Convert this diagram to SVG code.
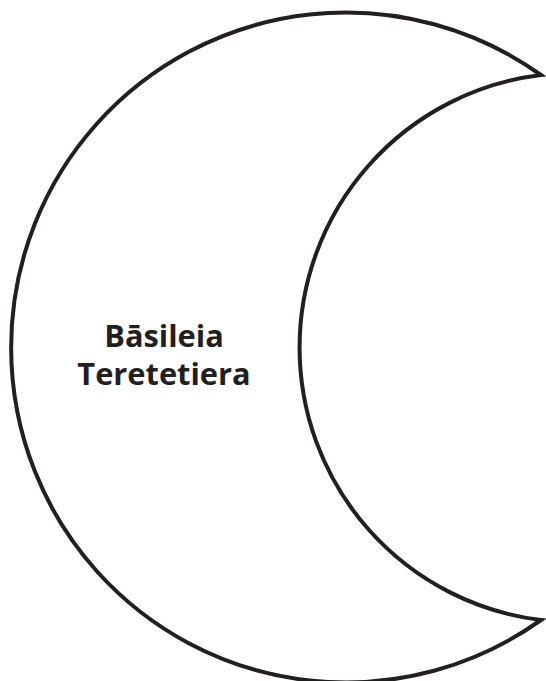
<svg xmlns="http://www.w3.org/2000/svg" width="546" height="681" viewBox="0 0 546 681">
<style>
.shape{fill:#ffffff;stroke:#231f20;stroke-width:4;stroke-linejoin:miter;stroke-miterlimit:20}
.lbl{font-family:"Open Sans",sans-serif;font-weight:bold;font-size:30.8px;fill:#231f20;text-anchor:middle}
</style>
<rect width="546" height="681" fill="#ffffff"/>
<g id="moon">
<path class="shape" d="M541,75 A335,335 0 1 0 541,620 A274.5,274.5 0 0 1 541,75 Z"/>
<text class="lbl" x="164" y="347">Bāsileia</text>
<text class="lbl" x="164" y="385">Teretetiera</text>
</g>
</svg>
